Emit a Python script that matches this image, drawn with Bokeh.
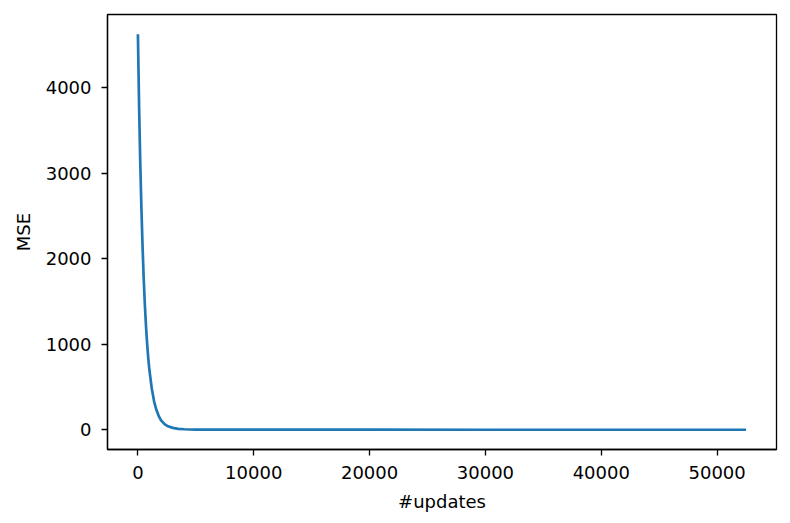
from bokeh.plotting import figure
from bokeh.models import Range1d, FixedTicker, BasicTickFormatter
from bokeh.embed import file_html
from bokeh.resources import INLINE

# Data
x_updates = [0, 100, 200, 300, 400, 500, 600, 700, 800, 900, 1000, 1200, 1400,
             1600, 1800, 2000, 2300, 2600, 3000, 3500, 4000, 5000, 7000, 10000,
             20000, 30000, 40000, 52500]
mse = [4627, 3800, 3140, 2600, 2150, 1770, 1460, 1210, 1000, 830, 690, 480, 330,
       230, 160, 110, 65, 40, 22, 11, 6, 2, 1, 0.5, 0.3, 0.2, 0.2, 0.2]
x_ticks = [0, 10000, 20000, 30000, 40000, 50000]
y_ticks = [0, 1000, 2000, 3000, 4000]
x_label = "#updates"
y_label = "MSE"

FONT = "DejaVu Sans"
FS = "18px"

xspan = max(x_updates) - min(x_updates)
yspan = max(mse) - min(mse)

p = figure(width=782, height=515, output_backend="svg", toolbar_location=None,
           x_range=Range1d(min(x_updates) - 0.05 * xspan, max(x_updates) + 0.05 * xspan),
           y_range=Range1d(min(mse) - 0.05 * yspan, max(mse) + 0.05 * yspan),
           min_border_left=107, min_border_right=6, min_border_top=14, min_border_bottom=66)

p.line(x_updates, mse, line_color="#1f77b4", line_width=2.7)

p.grid.visible = False
p.outline_line_color = "black"
p.outline_line_width = 1.3
p.background_fill_color = "white"
p.border_fill_color = "white"

p.xaxis.ticker = FixedTicker(ticks=x_ticks)
p.yaxis.ticker = FixedTicker(ticks=y_ticks)
p.xaxis.formatter = BasicTickFormatter(use_scientific=False)
p.yaxis.formatter = BasicTickFormatter(use_scientific=False)
p.xaxis.axis_label = x_label
p.yaxis.axis_label = y_label

for ax in (p.xaxis, p.yaxis):
    ax.axis_line_color = "black"
    ax.axis_line_width = 1.3
    ax.major_tick_line_color = "black"
    ax.major_tick_line_width = 1.3
    ax.major_tick_out = 6
    ax.major_tick_in = 0
    ax.minor_tick_line_color = None
    ax.major_label_text_font = FONT
    ax.major_label_text_font_size = FS
    ax.major_label_text_color = "black"
    ax.axis_label_text_font = FONT
    ax.axis_label_text_font_size = FS
    ax.axis_label_text_font_style = "normal"
    ax.axis_label_text_color = "black"

p.xaxis.major_label_standoff = 10
p.yaxis.major_label_standoff = 10
p.xaxis.axis_label_standoff = 9
p.yaxis.axis_label_standoff = 9

open("out.html", "w").write(file_html(p, INLINE))
